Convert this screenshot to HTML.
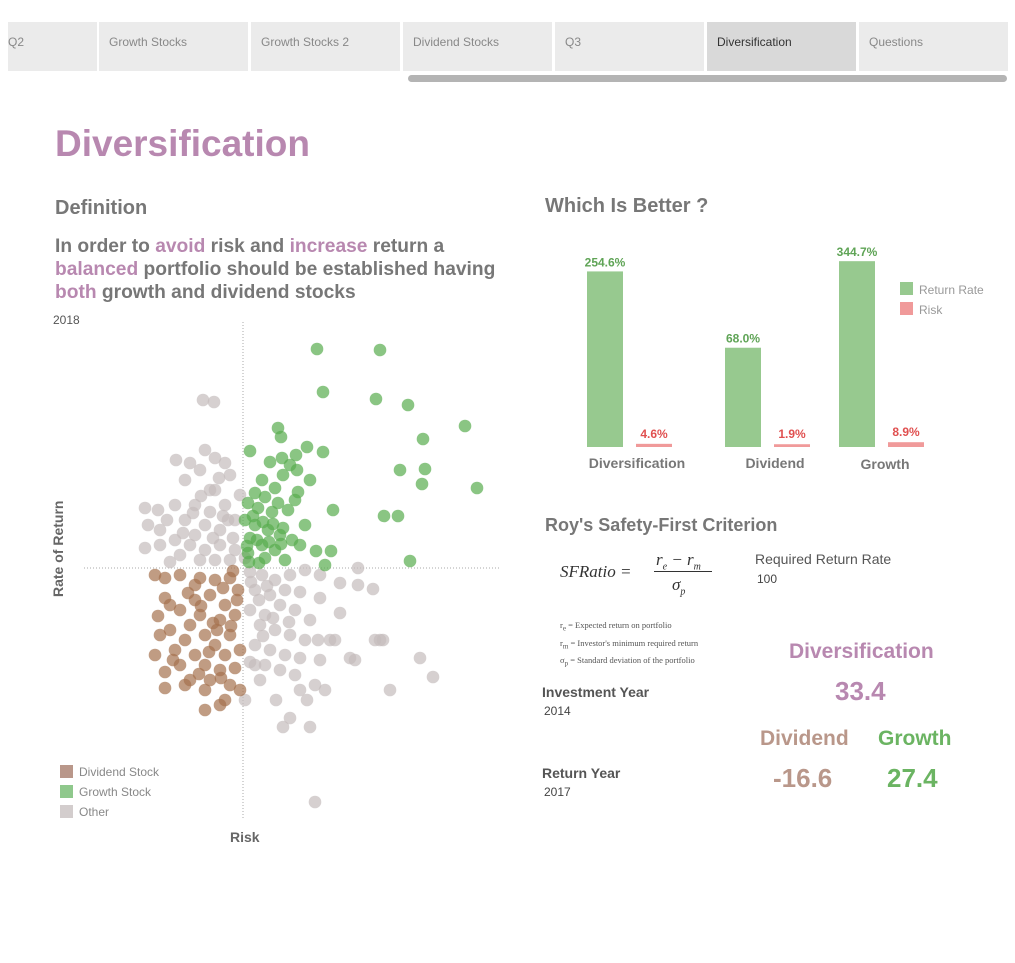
<!DOCTYPE html>
<html><head><meta charset="utf-8"><style>
body{margin:0;width:1015px;height:963px;background:#fff;font-family:"Liberation Sans",sans-serif;position:relative;overflow:hidden}
.a{position:absolute;white-space:nowrap}
.tab{position:absolute;top:22px;height:49px;background:#ebebeb;color:#888;font-size:12px;line-height:40px;padding-left:10px;box-sizing:border-box}
.p{color:#b888b0}
</style></head><body>
<div>
<div class="tab" style="left:8px;width:89px;padding-left:0">Q2</div>
<div class="tab" style="left:99px;width:149px">Growth Stocks</div>
<div class="tab" style="left:251px;width:149px">Growth Stocks 2</div>
<div class="tab" style="left:403px;width:149px">Dividend Stocks</div>
<div class="tab" style="left:555px;width:149px">Q3</div>
<div class="tab" style="left:707px;width:149px;background:#d9d9d9;color:#333">Diversification</div>
<div class="tab" style="left:859px;width:149px">Questions</div>
</div>
<div class="a" style="left:408px;top:75px;width:599px;height:7px;background:#b4b4b4;border-radius:4px"></div>
<div class="a p" style="left:55px;top:123px;font-size:37px;font-weight:bold">Diversification</div>
<div class="a" style="left:55px;top:197px;font-size:20px;font-weight:bold;color:#777">Definition</div>
<div class="a" style="left:55px;top:235px;font-size:19.2px;font-weight:bold;color:#777;line-height:23px">In order to <span class="p">avoid</span> risk and <span class="p">increase</span> return a<br><span class="p">balanced</span> portfolio should be established having<br><span class="p">both</span> growth and dividend stocks</div>
<div class="a" style="left:53px;top:313px;font-size:12px;color:#555">2018</div>
<svg class="a" style="left:0;top:0" width="1015" height="963" id="sc"></svg>
<div class="a" style="left:50px;top:597px;transform:rotate(-90deg);transform-origin:0 0;font-size:14px;font-weight:bold;color:#666">Rate of Return</div>
<div class="a" style="left:230px;top:829px;font-size:14px;font-weight:bold;color:#666">Risk</div>
<div>
<div class="a" style="left:60px;top:765px;width:13px;height:13px;background:#b9978a"></div>
<div class="a" style="left:79px;top:765px;font-size:12px;color:#888">Dividend Stock</div>
<div class="a" style="left:60px;top:785px;width:13px;height:13px;background:#8fc88c"></div>
<div class="a" style="left:79px;top:785px;font-size:12px;color:#888">Growth Stock</div>
<div class="a" style="left:60px;top:805px;width:13px;height:13px;background:#d3cdcd"></div>
<div class="a" style="left:79px;top:805px;font-size:12px;color:#888">Other</div>
</div>
<div class="a" style="left:545px;top:195px;font-size:20px;font-weight:bold;color:#777">Which Is Better ?</div>
<div class="a" style="left:900px;top:282px;width:13px;height:13px;background:#97c98f"></div>
<div class="a" style="left:919px;top:283px;font-size:12px;color:#999">Return Rate</div>
<div class="a" style="left:900px;top:302px;width:13px;height:13px;background:#f09a9a"></div>
<div class="a" style="left:919px;top:303px;font-size:12px;color:#999">Risk</div>
<div class="a" style="left:545px;top:515px;font-size:18px;font-weight:bold;color:#777">Roy's Safety-First Criterion</div>
<div class="a" style="left:560px;top:548px;font-family:'Liberation Serif',serif;font-style:italic;font-size:17px;color:#333">
<span style="position:absolute;top:14px">SFRatio =</span>
<span style="position:absolute;left:96px;top:2px">r<sub style="font-size:10px">e</sub> − r<sub style="font-size:10px">m</sub></span>
<span style="position:absolute;left:94px;top:23px;width:58px;border-top:1px solid #333"></span>
<span style="position:absolute;left:112px;top:27px">σ<sub style="font-size:10px">p</sub></span>
</div>
<div class="a" style="left:560px;top:618px;font-family:'Liberation Serif',serif;font-size:8.5px;color:#555;line-height:14px">r<sub>e</sub> = Expected return on portfolio<br>r<sub>m</sub> = Investor's minimum required return<br>σ<sub>p</sub> = Standard deviation of the portfolio</div>
<div class="a" style="left:755px;top:551px;font-size:14px;color:#555">Required Return Rate</div>
<div class="a" style="left:757px;top:572px;font-size:12px;color:#444">100</div>
<div class="a" style="left:542px;top:684px;font-size:14px;font-weight:bold;color:#555">Investment Year</div>
<div class="a" style="left:544px;top:704px;font-size:12px;color:#444">2014</div>
<div class="a" style="left:542px;top:765px;font-size:14px;font-weight:bold;color:#555">Return Year</div>
<div class="a" style="left:544px;top:785px;font-size:12px;color:#444">2017</div>
<div class="a p" style="left:789px;top:640px;font-size:21px;font-weight:bold">Diversification</div>
<div class="a p" style="left:835px;top:676px;font-size:26px;font-weight:bold">33.4</div>
<div class="a" style="left:760px;top:727px;font-size:21px;font-weight:bold;color:#b9978a">Dividend</div>
<div class="a" style="left:773px;top:763px;font-size:26px;font-weight:bold;color:#b9978a">-16.6</div>
<div class="a" style="left:878px;top:727px;font-size:21px;font-weight:bold;color:#6bb462">Growth</div>
<div class="a" style="left:887px;top:763px;font-size:26px;font-weight:bold;color:#6bb462">27.4</div>
<svg class="a" style="left:0;top:0" width="1015" height="963" id="bc"></svg>
<script>
const growthPts=[[7.4,21.9],[13.7,21.8],[8.0,17.6],[13.3,16.9],[16.5,16.3],[22.2,14.2],[18.0,12.9],[3.5,14.0],[3.8,13.1],[0.7,11.7],[6.4,12.1],[8.0,11.6],[15.7,9.8],[18.2,9.9],[17.9,8.4],[23.4,8.0],[14.1,5.2],[15.5,5.2],[16.7,0.7],[9.0,5.8],[7.3,1.7],[8.8,1.7],[8.2,0.3],[2.7,10.6],[4.7,10.3],[5.4,9.8],[4.0,9.3],[1.9,8.8],[3.2,8.0],[5.5,7.6],[2.2,7.1],[0.5,6.5],[1.5,6.0],[2.9,5.6],[4.5,5.8],[0.2,4.8],[1.2,4.3],[2.5,3.8],[3.7,3.3],[4.9,2.8],[0.7,3.0],[1.9,2.3],[3.2,1.8],[0.5,1.5],[2.2,1.0],[4.2,0.8],[5.7,2.3],[6.2,4.3],[5.2,6.8],[6.7,8.8],[3.9,11.0],[5.3,11.3],[1.0,5.2],[2.0,4.6],[3.0,4.4],[0.4,2.2],[1.4,2.8],[2.6,2.6],[3.8,2.4],[0.6,0.6],[1.6,0.5],[3.5,6.5],[4.0,4.0],[1.2,7.5]];
const dividendPts=[[-8.8,-0.7],[-7.8,-1.0],[-6.3,-0.7],[-4.3,-1.0],[-2.8,-1.2],[-1.3,-1.0],[-0.5,-2.2],[-3.3,-2.7],[-4.8,-3.2],[-1.8,-3.7],[-7.8,-3.0],[-6.3,-4.2],[-4.3,-4.7],[-2.3,-5.2],[-0.8,-4.7],[-5.3,-5.7],[-7.3,-6.2],[-3.8,-6.7],[-1.3,-6.7],[-5.8,-7.2],[-2.8,-7.7],[-8.3,-6.7],[-6.8,-8.2],[-4.8,-8.7],[-1.8,-8.7],[-0.3,-8.2],[-8.8,-8.7],[-6.3,-9.7],[-3.8,-9.7],[-2.3,-10.2],[-7.8,-10.4],[-5.3,-11.2],[-3.3,-11.2],[-1.3,-11.7],[-7.8,-12.0],[-5.8,-11.7],[-3.8,-12.2],[-1.8,-13.2],[-3.8,-14.2],[-2.3,-13.7],[-0.3,-12.2],[-7.0,-9.2],[-8.5,-4.8],[-7.3,-3.7],[-4.8,-1.7],[-3.0,-5.5],[-5.5,-2.5],[-1.0,-0.3],[-2.0,-2.0],[-0.6,-3.2],[-1.2,-5.8],[-2.6,-6.2],[-4.2,-3.8],[-3.4,-8.4],[-0.8,-10.0],[-2.2,-11.0],[-4.4,-10.6]];
const otherPts=[[-4.0,16.8],[-2.9,16.6],[-3.8,11.8],[-6.7,10.8],[-5.3,10.5],[-2.8,11.0],[-1.8,10.5],[-5.8,8.8],[-4.3,9.8],[-1.3,9.3],[-3.3,7.8],[-0.3,7.3],[-9.8,6.0],[-8.5,5.8],[-7.6,4.8],[-9.5,4.3],[-6.8,6.3],[-4.8,6.3],[-3.3,5.6],[-1.8,6.3],[-5.8,4.8],[-3.8,4.3],[-2.3,3.8],[-0.8,4.8],[-9.8,2.0],[-8.3,2.3],[-6.8,2.8],[-5.3,2.3],[-3.8,1.8],[-2.3,2.3],[-0.8,1.8],[-6.3,1.3],[-4.3,0.8],[-2.8,0.8],[-1.3,0.8],[-7.3,0.6],[0.2,1.0],[-8.3,3.8],[-4.8,3.3],[-2.8,7.8],[-1.5,4.8],[0.7,-0.4],[1.9,-0.7],[3.2,-1.2],[4.7,-0.7],[6.2,-0.2],[7.7,-0.7],[9.7,-1.5],[11.5,0.0],[11.5,-1.7],[13.0,-2.1],[1.2,-2.2],[2.7,-2.7],[4.2,-2.2],[5.7,-2.4],[7.7,-3.0],[0.7,-4.2],[2.2,-4.7],[3.7,-3.7],[5.2,-4.2],[6.7,-5.2],[9.7,-4.5],[8.7,-7.2],[1.7,-5.7],[3.2,-6.2],[4.7,-6.7],[6.2,-7.2],[1.2,-7.7],[2.7,-8.2],[4.2,-8.7],[5.7,-9.0],[7.5,-7.2],[9.2,-7.2],[13.7,-7.2],[2.2,-9.7],[3.7,-10.2],[0.7,-9.4],[5.2,-10.7],[7.7,-9.2],[10.7,-9.0],[17.7,-9.0],[14.0,-7.2],[5.7,-12.2],[7.2,-11.7],[11.2,-9.2],[14.7,-12.2],[19.0,-10.9],[0.2,-13.2],[3.3,-13.2],[6.4,-13.2],[4.7,-15.0],[6.7,-15.9],[4.0,-15.9],[8.2,-12.2],[7.2,-23.4],[1.2,-9.7],[1.7,-11.2],[13.2,-7.2],[-2.0,5.2],[-3.0,3.0],[-1.0,3.0],[-5.0,5.5],[-6.0,3.5],[-4.2,7.2],[-2.4,9.0],[0.8,-1.4],[2.4,-1.8],[1.6,-3.2],[3.0,-5.0],[4.6,-5.4],[2.0,-6.8]];
const ordinalCx=243, ordinalCy=568, unitPx=10;
function sx(v){return ordinalCx+v*unitPx}
function sy(v){return ordinalCy-v*unitPx}
const NS="http://www.w3.org/2000/svg";
const sc=document.getElementById('sc');
function mk(t,a){const e=document.createElementNS(NS,t);for(const k in a)e.setAttribute(k,a[k]);return e}
let l1=mk('line',{x1:243,y1:322,x2:243,y2:820,stroke:'#aaa','stroke-dasharray':'1,2'});


sc.appendChild(l1);
let l2=mk('line',{x1:84,y1:568,x2:500,y2:568,stroke:'#aaa','stroke-dasharray':'1,2'});


sc.appendChild(l2);
function drawPts(pts,col,name){pts.forEach(p=>{const c=mk('circle',{cx:sx(p[0]),cy:sy(p[1]),r:6.3,fill:col,'fill-opacity':0.7});


sc.appendChild(c);});}
drawPts(otherPts,'#c4bcbc','point-other');
drawPts(dividendPts,'#a5724f','point-dividend');
drawPts(growthPts,'#58ad4e','point-growth');

const groups=['Diversification','Dividend','Growth'];
const returnRate=[254.6,68.0,344.7];
const riskVals=[4.6,1.9,8.9];
const axisMax=[290,137,371];
const bc=document.getElementById('bc');
const base=447,H=200;
const gx=[587,725,839];
function bh(v,i){return v/axisMax[i]*H}
groups.forEach((g,i)=>{
 const x=gx[i];
 let h=bh(returnRate[i],i);
 let r=mk('rect',{x:x,y:base-h,width:36,height:h,fill:'#97c98f'});
 
 
 bc.appendChild(r);
 let t=mk('text',{x:x+18,y:base-h-5,'text-anchor':'middle','font-size':12,'font-weight':'bold',fill:'#5fa456'});t.textContent=returnRate[i].toFixed(1)+'%';
 
 
 bc.appendChild(t);
 let hr=Math.max(2.5,bh(riskVals[i],i));
 let r2=mk('rect',{x:x+49,y:base-hr,width:36,height:hr,fill:'#f09a9a'});
 
 
 bc.appendChild(r2);
 let t2=mk('text',{x:x+67,y:base-hr-6,'text-anchor':'middle','font-size':12,'font-weight':'bold',fill:'#e05050'});t2.textContent=riskVals[i].toFixed(1)+'%';
 
 
 bc.appendChild(t2);
 let t3=mk('text',{x:x+(i==0?50:i==1?50:46),y:base+(i==2?22:21),'text-anchor':'middle','font-size':14,'font-weight':'bold',fill:'#777'});t3.textContent=g;
 
 
 bc.appendChild(t3);
});
</script>
</body></html>
